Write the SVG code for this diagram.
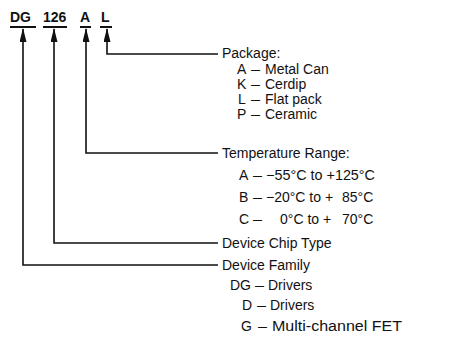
<svg xmlns="http://www.w3.org/2000/svg" width="454" height="343" viewBox="0 0 454 343">
<defs>
<style>
.t{font-family:"Liberation Sans",Arial,sans-serif;font-size:14px;fill:#111}
.h{font-family:"Liberation Sans",Arial,sans-serif;font-size:14px;font-weight:bold;fill:#111}
.ln{fill:none;stroke:#111;stroke-width:1.6}
.ul{stroke:#111;stroke-width:2}
</style>
<marker id="ah" viewBox="0 0 14 7" refX="13" refY="3.5" markerWidth="14" markerHeight="7" markerUnits="userSpaceOnUse" orient="auto">
<path d="M0,0 L14,3.5 L0,7 Z" fill="#111"/>
</marker>
</defs>
<rect width="454" height="343" fill="#fff"/>
<g id="code">
<text class="h" x="10" y="22">DG</text>
<text class="h" x="43" y="22">126</text>
<text class="h" x="80" y="22">A</text>
<text class="h" x="101" y="22">L</text>
<line class="ul" x1="10" y1="27" x2="36" y2="27"/>
<line class="ul" x1="43" y1="27" x2="67" y2="27"/>
<line class="ul" x1="80" y1="27" x2="91" y2="27"/>
<line class="ul" x1="100" y1="27" x2="112" y2="27"/>
</g>
<g id="connectors">
<path class="ln" d="M218,54 H107 V29" marker-end="url(#ah)"/>
<path class="ln" d="M218,153 H86 V29" marker-end="url(#ah)"/>
<path class="ln" d="M218,243 H54 V29" marker-end="url(#ah)"/>
<path class="ln" d="M218,265 H23 V29" marker-end="url(#ah)"/>
</g>
<g id="package">
<text class="t" x="222" y="58">Package:</text>
<text class="t" x="237" y="74">A</text><text class="t" x="251" y="74" textLength="9" lengthAdjust="spacingAndGlyphs">—</text><text class="t" x="265" y="74">Metal Can</text>
<text class="t" x="237" y="89">K</text><text class="t" x="251" y="89" textLength="9" lengthAdjust="spacingAndGlyphs">—</text><text class="t" x="265" y="89">Cerdip</text>
<text class="t" x="238" y="104">L</text><text class="t" x="251" y="104" textLength="9" lengthAdjust="spacingAndGlyphs">—</text><text class="t" x="265" y="104">Flat pack</text>
<text class="t" x="237" y="119">P</text><text class="t" x="251" y="119" textLength="9" lengthAdjust="spacingAndGlyphs">—</text><text class="t" x="265" y="119">Ceramic</text>
</g>
<g id="temperature">
<text class="t" x="222" y="158">Temperature Range:</text>
<text class="t" x="239" y="180">A</text><text class="t" x="253" y="180" textLength="9" lengthAdjust="spacingAndGlyphs">—</text><text class="t" x="266" y="180" textLength="109" lengthAdjust="spacingAndGlyphs">−55°C to +125°C</text>
<text class="t" x="239" y="202">B</text><text class="t" x="253" y="202" textLength="9" lengthAdjust="spacingAndGlyphs">—</text><text class="t" x="266" y="202">−20°C to +</text><text class="t" x="342" y="202">85°C</text>
<text class="t" x="239" y="224">C</text><text class="t" x="253" y="224" textLength="9" lengthAdjust="spacingAndGlyphs">—</text><text class="t" x="280" y="224">0°C to +</text><text class="t" x="342" y="224">70°C</text>
</g>
<g id="chip">
<text class="t" x="222" y="248">Device Chip Type</text>
</g>
<g id="family">
<text class="t" x="222" y="270">Device Family</text>
<text class="t" x="230" y="290">DG</text><text class="t" x="255" y="290" textLength="9" lengthAdjust="spacingAndGlyphs">—</text><text class="t" x="268" y="290">Drivers</text>
<text class="t" x="242" y="310">D</text><text class="t" x="257" y="310" textLength="9" lengthAdjust="spacingAndGlyphs">—</text><text class="t" x="270" y="310">Drivers</text>
<text class="t" x="241" y="331">G</text><text class="t" x="258" y="331" textLength="9" lengthAdjust="spacingAndGlyphs">—</text><text class="t" x="272" y="331" textLength="130" lengthAdjust="spacingAndGlyphs">Multi-channel FET</text>
</g>
</svg>
